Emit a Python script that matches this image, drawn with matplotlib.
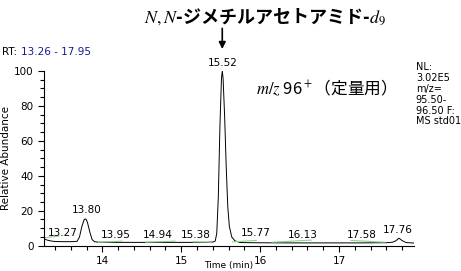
import numpy as np
import matplotlib
matplotlib.use("Agg")
import matplotlib.pyplot as plt
from matplotlib.ticker import MultipleLocator

plt.rcParams['font.family'] = ['DejaVu Sans', 'Noto Sans CJK JP']
plt.rcParams['mathtext.fontset'] = 'stix'

# chromatogram trace (time min, relative abundance %)
rt = [13.26, 13.30, 13.35, 13.40, 13.50, 13.60, 13.68, 13.71, 13.74, 13.77, 13.79, 13.81,
      13.84, 13.87, 13.90, 13.95, 14.20, 14.60, 15.00, 15.30, 15.40, 15.43, 15.45, 15.47,
      15.49, 15.51, 15.52, 15.53, 15.55, 15.57, 15.59, 15.61, 15.64, 15.68, 15.75, 15.90,
      16.30, 16.80, 17.30, 17.60, 17.68, 17.72, 17.76, 17.80, 17.85, 17.95]
ab = [4.0, 3.2, 2.7, 2.4, 2.3, 2.3, 2.5, 5.0, 11.0, 15.0, 15.3, 13.5,
      8.0, 3.5, 2.3, 2.0, 1.9, 1.9, 1.9, 1.9, 2.1, 2.6, 7.0, 28.0,
      68.0, 96.0, 100.0, 96.0, 74.0, 45.0, 22.0, 11.0, 5.0, 2.8, 1.8, 1.7,
      1.6, 1.6, 1.6, 1.7, 2.0, 2.8, 4.3, 2.9, 1.8, 1.5]

# peak labels: text, x, y
peak_txt = ['13.27', '13.80', '13.95', '14.94', '15.38', '15.52', '15.77', '16.13', '17.58', '17.76']
peak_x = [13.50, 13.80, 14.17, 14.70, 15.18, 15.52, 15.95, 16.54, 17.29, 17.74]
peak_y = [4.5, 17.5, 3.5, 3.5, 3.5, 101.5, 4.5, 3.5, 3.5, 6.0]

# integration baselines (green)
base_x = [(13.26, 13.45), (13.95, 14.25), (14.55, 14.92), (15.15, 15.38),
          (15.65, 15.95), (16.15, 16.65), (17.15, 17.58)]
base_y = [(4.5, 5.5), (2.0, 2.6), (2.0, 2.6), (2.2, 2.0),
          (2.2, 3.0), (2.0, 3.2), (3.0, 2.0)]

fig = plt.figure(figsize=(4.61, 2.71), dpi=100)
ax = fig.add_axes([0.0954, 0.0934, 0.8026, 0.6446])

ax.plot(rt, ab, color='black', lw=0.7)
for xs, ys in zip(base_x, base_y):
    ax.plot(xs, ys, color='#8fd08f', lw=0.8)
for t, x, y in zip(peak_txt, peak_x, peak_y):
    ax.text(x, y, t, ha='center', va='bottom', fontsize=7.5, clip_on=False)

ax.set_xlim(13.26, 17.95)
ax.set_ylim(0, 100)
ax.spines['top'].set_visible(False)
ax.spines['right'].set_visible(False)
ax.xaxis.set_major_locator(MultipleLocator(1))
ax.xaxis.set_minor_locator(MultipleLocator(0.2))
ax.yaxis.set_major_locator(MultipleLocator(20))
ax.yaxis.set_minor_locator(MultipleLocator(5))
ax.tick_params(labelsize=7.5, length=4, width=0.8)
ax.tick_params(which='minor', length=3, width=0.8)
ax.set_ylabel('Relative Abundance', fontsize=7.5, labelpad=2)
# x label sits right at the bottom edge, as in the reference
fig.text(0.495, 0.004, 'Time (min)', fontsize=6.5, ha='center', va='bottom')

fig.text(0.004, 0.808, 'RT:', fontsize=7.5, va='center')
fig.text(0.045, 0.808, '13.26 - 17.95', fontsize=7.5, va='center', color='#1a1a8c')
fig.text(0.902, 0.77, 'NL:\n3.02E5\nm/z=\n95.50-\n96.50 F:\nMS std01', fontsize=7,
         va='top', linespacing=1.1)

fig.text(0.575, 0.94, r'$\it{N,N}$-ジメチルアセトアミド-$\it{d}_9$', fontsize=13,
         fontweight='bold', ha='center', va='center',
         family=['Noto Sans CJK JP', 'DejaVu Sans'])
fig.text(0.555, 0.675, r'$\it{m/z}$ 96$^+$（定量用）', fontsize=12, ha='left', va='center',
         family=['Noto Sans CJK JP', 'DejaVu Sans'])
ax.annotate('', xy=(15.52, 111), xytext=(15.52, 126), xycoords='data',
            arrowprops=dict(arrowstyle='-|>', color='black', lw=1.2), annotation_clip=False)

fig.savefig('out.png', dpi=100)
